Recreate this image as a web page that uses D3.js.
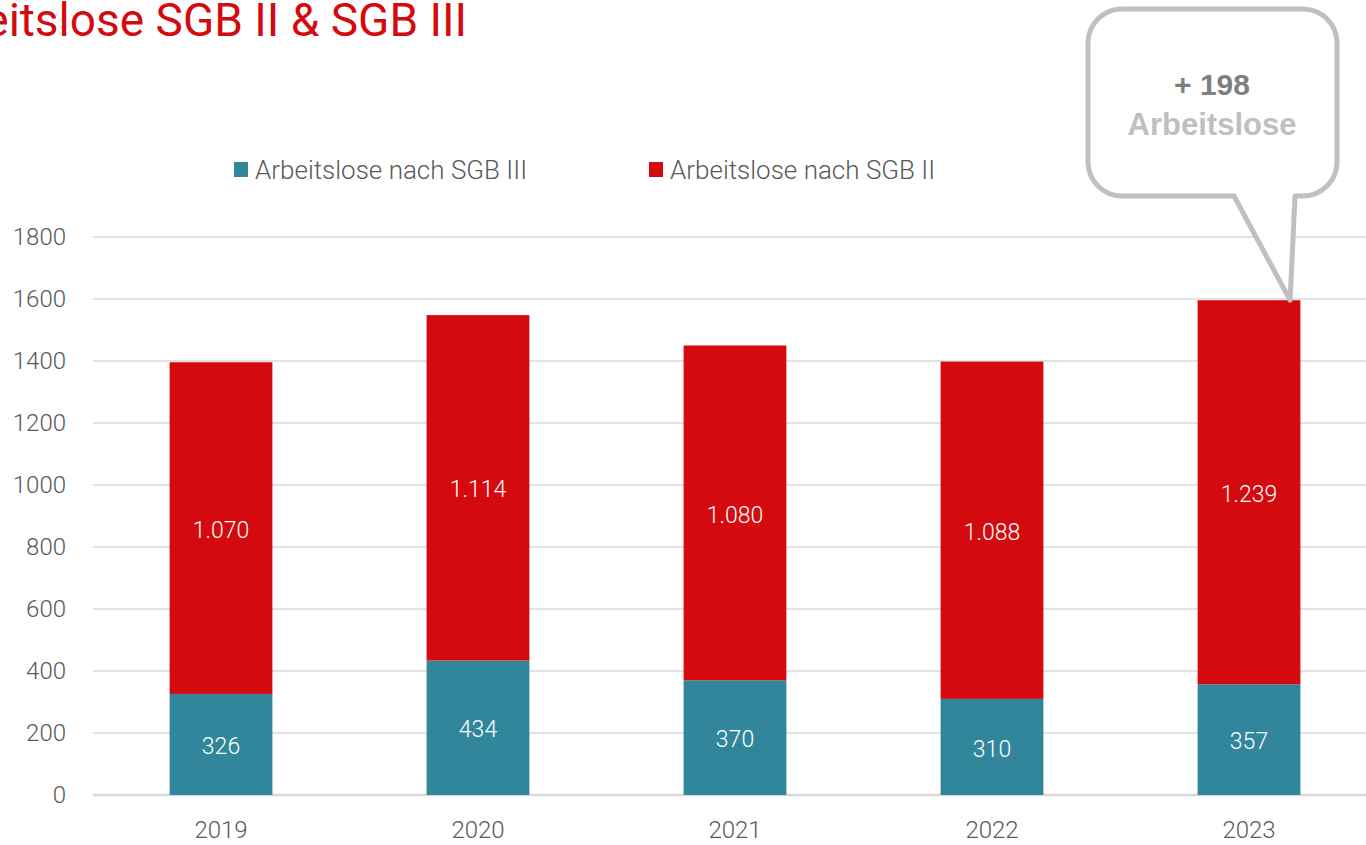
<!DOCTYPE html>
<html>
<head>
<meta charset="utf-8">
<script src="https://cdn.jsdelivr.net/npm/d3@7"></script>
<style>
  body { margin: 0; background: #fff; overflow: hidden; }
  svg { display: block; font-family: Roboto, "Noto Sans", sans-serif; }
</style>
</head>
<body>
<svg id="chart" width="1366" height="845"></svg>
<script>
// data
var years = ["2019", "2020", "2021", "2022", "2023"];
var sgb3 = [326, 434, 370, 310, 357];
var sgb2 = [1070, 1114, 1080, 1088, 1239];
var sgb2Labels = ["1.070", "1.114", "1.080", "1.088", "1.239"];
var yTicks = [0, 200, 400, 600, 800, 1000, 1200, 1400, 1600, 1800];
var seriesNames = ["Arbeitslose nach SGB III", "Arbeitslose nach SGB II"];
var calloutValue = "+ 198";
var calloutText = "Arbeitslose";

var red = "#d50a0e", teal = "#31869b", grey = "#595959";

var svg = d3.select("#chart");

// plot area
var plotLeft = 92.5, plotRight = 1377.5, plotTop = 237, plotBottom = 795;

var x = d3.scaleBand()
  .domain(years)
  .range([plotLeft, plotRight])
  .paddingInner(0.6)
  .paddingOuter(0.3);

var y = d3.scaleLinear()
  .domain([0, 1800])
  .range([plotBottom, plotTop]);

// title (runs off the left edge like the original slide)
svg.append("text")
  .attr("x", 467)
  .attr("y", 36)
  .attr("text-anchor", "end")
  .attr("fill", red)
  .style("font-size", "46px")
  .text("Arbeitslose SGB II & SGB III");

// gridlines
svg.append("g")
  .selectAll("line")
  .data(yTicks)
  .join("line")
    .attr("x1", 93)
    .attr("x2", 1366)
    .attr("y1", function(d) { return y(d); })
    .attr("y2", function(d) { return y(d); })
    .attr("stroke", "#d9d9d9")
    .attr("stroke-width", function(d) { return d === 0 ? 2.5 : 1.5; });

// y axis labels
var yAxis = svg.append("g")
  .attr("transform", "translate(78,0)")
  .call(d3.axisLeft(y).tickValues(yTicks).tickSize(0).tickPadding(12).tickFormat(d3.format("d")));
yAxis.select(".domain").remove();
yAxis.selectAll("text")
  .attr("fill", grey)
  .style("font-size", "24px")
  .style("font-weight", 300)
  .style("font-family", "Roboto, sans-serif");

// x axis labels
var xAxis = svg.append("g")
  .attr("transform", "translate(0," + plotBottom + ")")
  .call(d3.axisBottom(x).tickSize(0).tickPadding(26));
xAxis.select(".domain").remove();
xAxis.selectAll("text")
  .attr("fill", grey)
  .style("font-size", "24px")
  .style("font-weight", 300)
  .style("font-family", "Roboto, sans-serif");

// bars
var rows = years.map(function(yr, i) {
  return { year: yr, a: sgb3[i], b: sgb2[i], label: sgb2Labels[i] };
});

var g = svg.append("g");

g.selectAll("rect.sgb3")
  .data(rows)
  .join("rect")
    .attr("class", "sgb3")
    .attr("x", function(d) { return x(d.year); })
    .attr("width", x.bandwidth())
    .attr("y", function(d) { return y(d.a); })
    .attr("height", function(d) { return y(0) - y(d.a); })
    .attr("fill", teal);

g.selectAll("rect.sgb2")
  .data(rows)
  .join("rect")
    .attr("class", "sgb2")
    .attr("x", function(d) { return x(d.year); })
    .attr("width", x.bandwidth())
    .attr("y", function(d) { return y(d.a + d.b); })
    .attr("height", function(d) { return y(d.a) - y(d.a + d.b); })
    .attr("fill", red);

// value labels
g.selectAll("text.l3")
  .data(rows)
  .join("text")
    .attr("class", "l3")
    .attr("x", function(d) { return x(d.year) + x.bandwidth() / 2; })
    .attr("y", function(d) { return (y(0) + y(d.a)) / 2; })
    .attr("dy", "0.42em")
    .attr("text-anchor", "middle")
    .attr("fill", "#fff")
    .style("font-size", "23px")
    .style("font-weight", 300)
    .text(function(d) { return d.a; });

g.selectAll("text.l2")
  .data(rows)
  .join("text")
    .attr("class", "l2")
    .attr("x", function(d) { return x(d.year) + x.bandwidth() / 2; })
    .attr("y", function(d) { return (y(d.a) + y(d.a + d.b)) / 2; })
    .attr("dy", "0.42em")
    .attr("text-anchor", "middle")
    .attr("fill", "#fff")
    .style("font-size", "23px")
    .style("font-weight", 300)
    .text(function(d) { return d.label; });

// legend
var legendPos = [234, 649];
var legend = svg.append("g")
  .selectAll("g")
  .data(seriesNames)
  .join("g")
    .attr("transform", function(d, i) { return "translate(" + legendPos[i] + ",162)"; });
legend.append("rect")
  .attr("width", 14)
  .attr("height", 15)
  .attr("fill", function(d, i) { return i === 0 ? teal : red; });
legend.append("text")
  .attr("x", 21)
  .attr("y", 8)
  .attr("dy", "0.36em")
  .attr("fill", grey)
  .style("font-size", "26px")
  .style("font-weight", 300)
  .text(function(d) { return d; });

// callout bubble pointing at the 2023 total
var tipX = x("2023") + x.bandwidth() * 0.9;
var tipY = y(sgb3[4] + sgb2[4]);
var bx0 = 1088, bx1 = 1337, by0 = 9, by1 = 196, r = 34;
var path = d3.path();
path.moveTo(bx0 + r, by0);
path.lineTo(bx1 - r, by0);
path.arcTo(bx1, by0, bx1, by0 + r, r);
path.lineTo(bx1, by1 - r);
path.arcTo(bx1, by1, bx1 - r, by1, r);
path.lineTo(1295, by1);
path.lineTo(tipX, tipY);
path.lineTo(1234, by1);
path.lineTo(bx0 + r, by1);
path.arcTo(bx0, by1, bx0, by1 - r, r);
path.lineTo(bx0, by0 + r);
path.arcTo(bx0, by0, bx0 + r, by0, r);
path.closePath();

svg.append("path")
  .attr("d", path.toString())
  .attr("fill", "#fff")
  .attr("stroke", "#c0c0c0")
  .attr("stroke-width", 5)
  .attr("stroke-linejoin", "round");

svg.append("text")
  .attr("x", 1212)
  .attr("y", 95)
  .attr("text-anchor", "middle")
  .attr("fill", "#7f7f7f")
  .style("font-family", "'Liberation Sans', Arial, sans-serif")
  .style("font-weight", "bold")
  .style("font-size", "30px")
  .text(calloutValue);

svg.append("text")
  .attr("x", 1212)
  .attr("y", 135)
  .attr("text-anchor", "middle")
  .attr("fill", "#bfbfbf")
  .style("font-family", "'Liberation Sans', Arial, sans-serif")
  .style("font-weight", "bold")
  .style("font-size", "31px")
  .text(calloutText);
</script>
</body>
</html>
